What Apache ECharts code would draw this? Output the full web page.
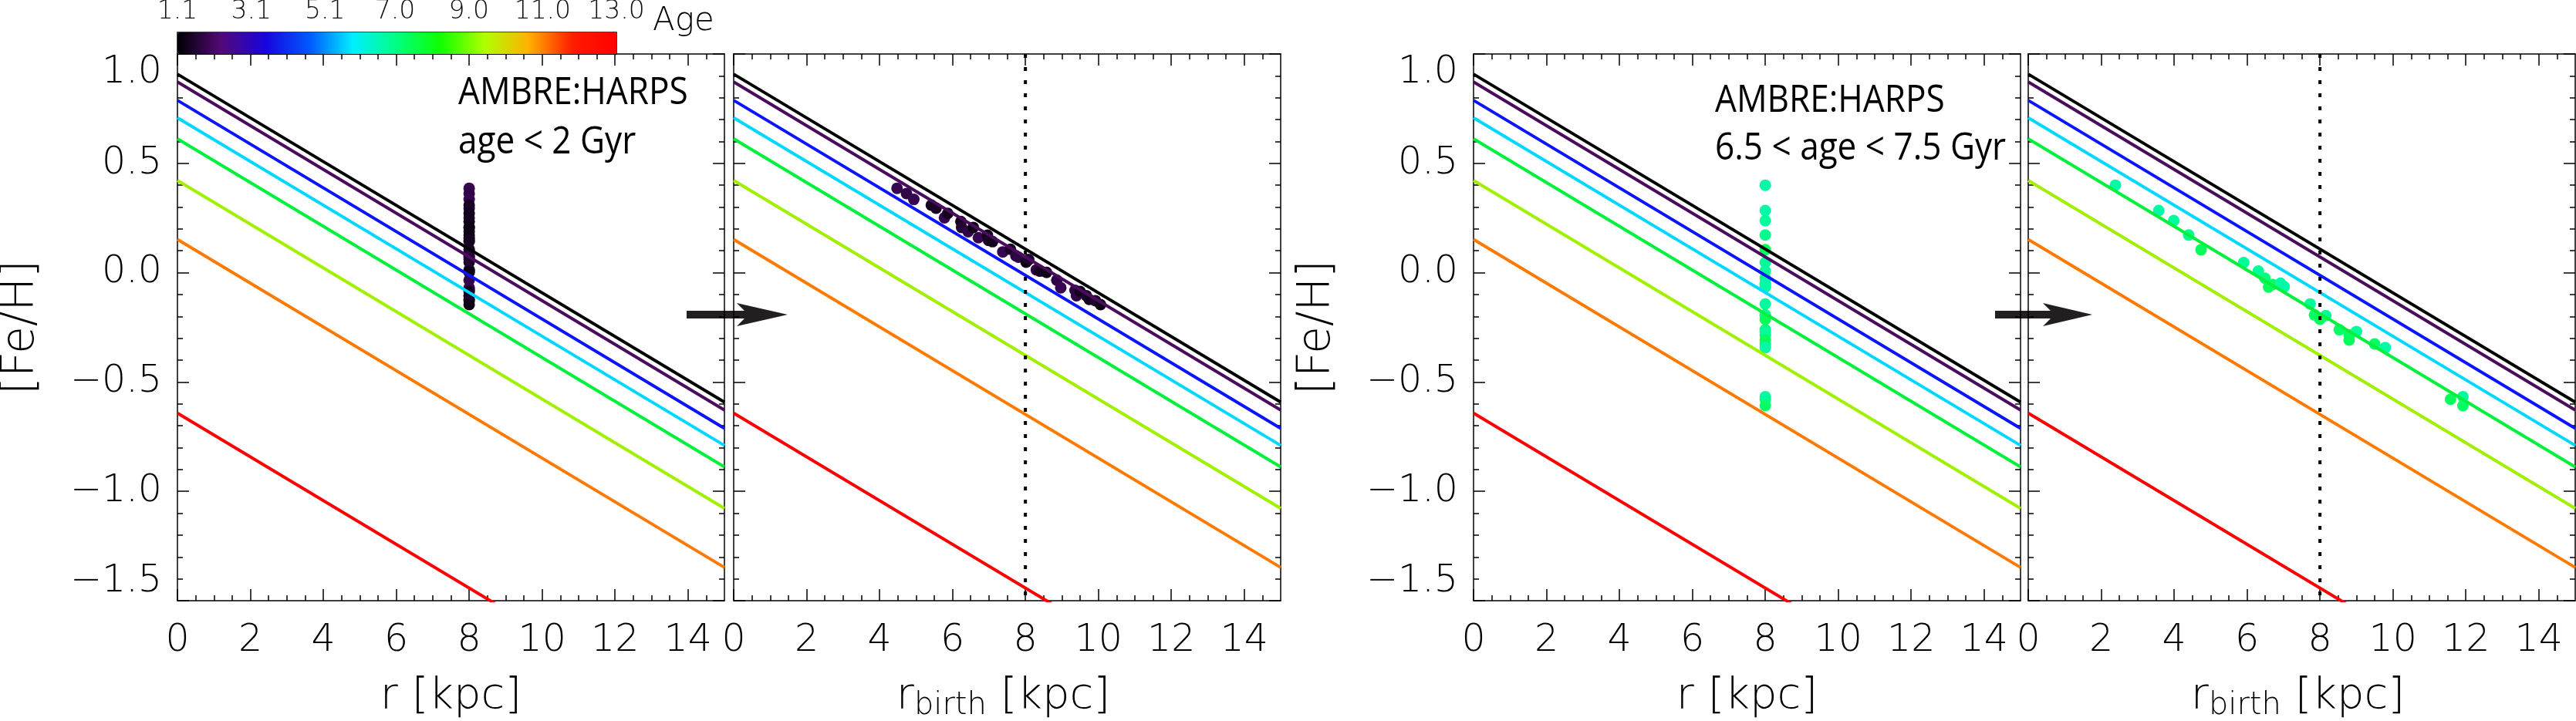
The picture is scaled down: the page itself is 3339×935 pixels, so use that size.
<!DOCTYPE html>
<html>
<head>
<meta charset="utf-8">
<script src="https://cdn.jsdelivr.net/npm/echarts@6/dist/echarts.min.js"></script>
<style>
  html, body { margin: 0; padding: 0; background: #fff; }
  #chart { width: 3339px; height: 935px; }
</style>
</head>
<body>
<div id="chart"></div>
<script>
// axis ranges and ticks
const xMin = 0, xMax = 15;
const yMin = -1.5, yMax = 1.0;
const xMajorTicks = [0, 2, 4, 6, 8, 10, 12, 14];
const xMinorTicks = [0.5, 1, 1.5, 2.5, 3, 3.5, 4.5, 5, 5.5, 6.5, 7, 7.5, 8.5, 9, 9.5,
  10.5, 11, 11.5, 12.5, 13, 13.5, 14.5];
const ageMin = 1.1, ageMax = 13.0;
const ageTicks = [1.1, 3.1, 5.1, 7.0, 9.0, 11.0, 13.0];
const rSun = 8;

// model gradients, [Fe/H] read at r = 0 and r = 15 kpc (one line per age)
const gradR = [0, 15];
const gradFehAt0 = [0.908, 0.872, 0.788, 0.708, 0.612, 0.422, 0.152, -0.642];
const gradFehAt15 = [-0.592, -0.628, -0.712, -0.790, -0.888, -1.078, -1.348, -2.142];
const gradColors = ['#000000', '#4a0c5c', '#0a14ff', '#00d8ff', '#00f03c', '#a0f000', '#ff7a00', '#ff0000'];

// AMBRE:HARPS stars, age < 2 Gyr
const rBirthYoung = [4.48, 4.74, 4.94, 5.42, 5.55, 5.78, 5.87, 6.23, 6.25, 6.43, 6.57, 6.71, 6.96, 6.99,
  7.10, 7.38, 7.59, 7.74, 7.81, 8.02, 8.09, 8.30, 8.40, 8.58, 8.86, 8.97, 9.36, 9.40, 9.50, 9.67, 9.75, 9.92, 10.06];
const fehYoung = [0.386, 0.362, 0.335, 0.309, 0.295, 0.251, 0.271, 0.234, 0.207, 0.187, 0.207, 0.160, 0.171, 0.148,
  0.142, 0.095, 0.107, 0.077, 0.071, 0.048, 0.060, 0.013, 0.007, 0.001, -0.034, -0.069, -0.081, -0.105, -0.086, -0.105, -0.122, -0.128, -0.146];
const ageYoung = [1.9, 1.8, 1.9, 1.4, 1.5, 1.9, 1.4, 1.4, 1.6, 1.8, 1.3, 1.9, 1.3, 1.5,
  1.4, 1.9, 1.5, 1.7, 1.8, 1.3, 1.6, 1.8, 1.4, 1.3, 1.8, 1.9, 1.8, 1.8, 1.4, 1.5, 1.4, 1.6, 1.3];

// AMBRE:HARPS stars, 6.5 < age < 7.5 Gyr
const rBirthMid = [2.39, 3.58, 3.99, 4.40, 4.74, 5.91, 6.31, 6.49, 6.59, 6.70, 6.92, 7.02, 7.73, 7.85,
  8.16, 8.00, 8.53, 8.80, 9.00, 8.80, 9.50, 9.79, 11.58, 11.92, 11.92];
const fehMid = [0.400, 0.284, 0.238, 0.172, 0.105, 0.046, 0.007, -0.025, -0.066, -0.054, -0.048, -0.064, -0.143, -0.193,
  -0.196, -0.213, -0.261, -0.284, -0.269, -0.308, -0.326, -0.343, -0.579, -0.567, -0.608];
const ageMid = [6.7, 6.7, 6.8, 6.9, 7.4, 6.8, 6.8, 7.1, 7.4, 7.3, 6.7, 6.7, 6.8, 7.3,
  6.8, 7.4, 7.3, 7.3, 6.8, 7.4, 7.3, 6.7, 7.4, 6.8, 7.3];

const ageColors = ['#000000', '#520978', '#1803dd', '#0057ff', '#00efff', '#00ff80',
  '#10ff00', '#b0ff00', '#ffb000', '#ff1c00', '#ff0000'];

const panels = [
  { left: 230, birth: false, feh: fehYoung, rb: rBirthYoung, age: ageYoung, yLabels: true },
  { left: 951, birth: true, feh: fehYoung, rb: rBirthYoung, age: ageYoung, yLabels: false },
  { left: 1910, birth: false, feh: fehMid, rb: rBirthMid, age: ageMid, yLabels: true },
  { left: 2629, birth: true, feh: fehMid, rb: rBirthMid, age: ageMid, yLabels: false }
];

const font = 'DejaVu Sans';
const fw = 200;
const black = '#000';
const tickLine = { color: black, width: 1.5 };

const grid = [], xAxis = [], yAxis = [], series = [], scatterIdx = [];

panels.forEach((p, gi) => {
  grid.push({ left: p.left, top: 70, width: 709, height: 709, outerBoundsMode: 'none' });

  const xBase = {
    gridIndex: gi, type: 'value', min: xMin, max: xMax,
    splitLine: { show: false },
    axisLine: { onZero: false, lineStyle: { color: black, width: 1.5 } }
  };
  const noLine = { show: false, onZero: false };
  const major = { inside: true, length: 15, customValues: xMajorTicks, lineStyle: tickLine };
  const minor = { inside: true, length: 7, customValues: xMinorTicks, lineStyle: tickLine };
  xAxis.push({
    ...xBase, position: 'bottom',
    name: p.birth ? '{n|r}{s|birth}{n| [kpc]}' : 'r [kpc]',
    nameLocation: 'middle', nameGap: 91,
    nameTextStyle: {
      fontFamily: font, fontWeight: fw, fontSize: 56, color: black, lineHeight: 66,
      padding: p.birth ? [0, 10, 0, 0] : 0,
      rich: {
        n: { fontFamily: font, fontWeight: fw, fontSize: 56, lineHeight: 66, color: black },
        s: { fontFamily: font, fontWeight: fw, fontSize: 40, lineHeight: 40, color: black, verticalAlign: 'bottom' }
      }
    },
    axisTick: major,
    axisLabel: {
      customValues: xMajorTicks, margin: 28,
      fontFamily: font, fontWeight: fw, fontSize: 49, color: black
    }
  });
  xAxis.push({ ...xBase, position: 'bottom', axisLine: noLine, axisTick: minor, axisLabel: { show: false } });
  xAxis.push({ ...xBase, position: 'top', axisTick: major, axisLabel: { show: false } });
  xAxis.push({ ...xBase, position: 'top', axisLine: noLine, axisTick: minor, axisLabel: { show: false } });

  const yBase = {
    gridIndex: gi, type: 'value', min: yMin, max: yMax, interval: 0.5,
    splitLine: { show: false },
    axisLine: { onZero: false, lineStyle: { color: black, width: 1.5 } },
    axisTick: { inside: true, length: 15, lineStyle: tickLine },
    minorTick: { show: true, splitNumber: 5, length: 7, lineStyle: tickLine }
  };
  yAxis.push({
    ...yBase, position: 'left',
    name: p.yLabels ? '[Fe/H]' : '',
    nameLocation: 'middle', nameRotate: 90, nameGap: 169,
    nameTextStyle: { fontFamily: font, fontWeight: fw, fontSize: 58, color: black, lineHeight: 66 },
    axisLabel: {
      show: p.yLabels, margin: 20,
      fontFamily: font, fontWeight: fw, fontSize: 49, color: black,
      verticalAlignMaxLabel: 'top', verticalAlignMinLabel: 'bottom',
      formatter: v => (v < 0 ? '\u2212' : '') + Math.abs(v).toFixed(1)
    }
  });
  yAxis.push({ ...yBase, position: 'right', axisLabel: { show: false } });

  const xi = gi * 4, yi = gi * 2;
  gradFehAt0.forEach((f0, k) => {
    series.push({
      type: 'line', xAxisIndex: xi, yAxisIndex: yi, silent: true, clip: true,
      showSymbol: false, symbol: 'none',
      lineStyle: { color: gradColors[k], width: 4 },
      data: [[gradR[0], f0], [gradR[1], gradFehAt15[k]]]
    });
  });
  if (p.birth) {
    series.push({
      type: 'line', xAxisIndex: xi, yAxisIndex: yi, silent: true, symbol: 'none',
      lineStyle: { color: black, width: 4, type: [5, 12] },
      data: [[rSun, yMax], [rSun, yMin]]
    });
  }
  scatterIdx.push(series.length);
  series.push({
    type: 'scatter', xAxisIndex: xi, yAxisIndex: yi, symbolSize: 15,
    itemStyle: { opacity: 1 },
    data: p.feh.map((f, i) => [p.birth ? p.rb[i] : rSun, f, p.age[i]])
  });
});

// colour bar tick labels
grid.push({ left: 230, top: 42, width: 569, height: 28, outerBoundsMode: 'none' });
xAxis.push({
  gridIndex: 4, type: 'value', position: 'top', min: ageMin, max: ageMax,
  axisLine: { show: false }, axisTick: { show: false }, splitLine: { show: false },
  axisLabel: {
    customValues: ageTicks, margin: 10,
    fontFamily: font, fontWeight: fw, fontSize: 33, color: '#111',
    formatter: v => v.toFixed(1)
  }
});
yAxis.push({ gridIndex: 4, type: 'value', show: false });

function arrow(x0, xb, xt, yc) {
  return {
    type: 'polygon', silent: true,
    shape: { points: [[x0, yc - 5], [xb + 10, yc - 5], [xb, yc - 15], [xt, yc],
      [xb, yc + 15], [xb + 10, yc + 5], [x0, yc + 5]] },
    style: { fill: '#231f20' }
  };
}
function note(x, y, text) {
  return {
    type: 'text', x: x, y: y, scaleX: 0.9, silent: true,
    style: { text: text, fontFamily: 'Open Sans', fontSize: 49, fill: black, verticalAlign: 'middle' }
  };
}

const option = {
  animation: false,
  backgroundColor: '#fff',
  grid: grid,
  xAxis: xAxis,
  yAxis: yAxis,
  visualMap: {
    type: 'continuous', orient: 'horizontal', left: 230, top: 42,
    itemWidth: 28, itemHeight: 569, padding: 0,
    min: ageMin, max: ageMax, dimension: 2, seriesIndex: scatterIdx,
    calculable: false, hoverLink: false, text: null,
    inRange: { color: ageColors }
  },
  graphic: [
    { type: 'rect', silent: true, shape: { x: 230, y: 42, width: 569, height: 28 },
      style: { fill: 'none', stroke: black, lineWidth: 1.5 } },
    { type: 'text', x: 846, y: 28, silent: true,
      style: { text: 'Age', fontFamily: font, fontWeight: fw, fontSize: 42, fill: black, verticalAlign: 'middle' } },
    note(594, 121, 'AMBRE:HARPS'),
    note(594, 185, 'age < 2 Gyr'),
    note(2223, 131, 'AMBRE:HARPS'),
    note(2223, 193, '6.5 < age < 7.5 Gyr'),
    arrow(890, 955, 1021, 408),
    arrow(2586, 2648, 2712, 408)
  ],
  series: series
};

const chart = echarts.init(document.getElementById('chart'));
chart.setOption(option);
</script>
</body>
</html>
